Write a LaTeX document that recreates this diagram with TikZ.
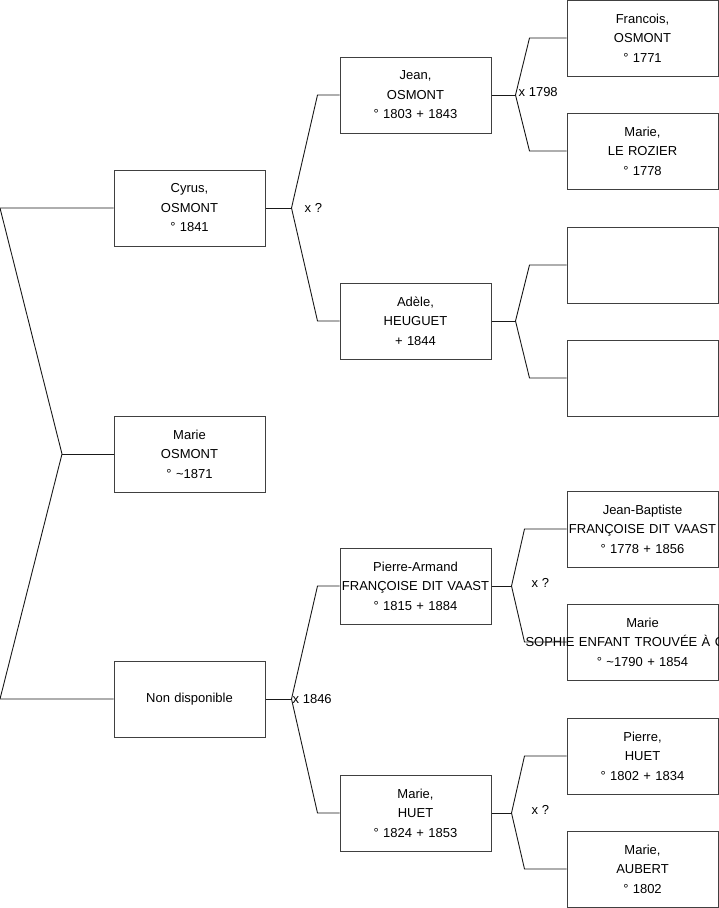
\documentclass[tikz,border=0pt]{standalone}
\usepackage{fontspec}
\setmainfont{Liberation Sans}
\usepackage{tikz}
\usetikzlibrary{positioning}
\tikzset{
  treefont/.style={font=\fontsize{13}{19.5}\selectfont},
  person/.style={rectangle, draw=black!75, line width=1pt, inner sep=0pt, align=center,
    text width=151pt, minimum width=151pt, minimum height=76pt},
  link/.style={draw=black!90, line width=0.9pt},
  mlbl/.style={anchor=west, inner sep=0pt},
}
\newcommand{\wide}[1]{\makebox[0pt]{#1}}

\begin{document}
\begin{tikzpicture}[x=1pt, y=-1pt, treefont]
  \useasboundingbox (0,0) rectangle (719,908);
  % generation 1
  \node[person] (cyrus) at (189.5,208) {Cyrus,\\OSMONT\\° 1841};
  \node[person] (marie) at (189.5,454) {Marie\\OSMONT\\° \textasciitilde1871};
  \node[person] (nondispo) at (189.5,699) {Non disponible};
  % generation 2
  \node[person] (jean) at (415.5,95) {Jean,\\OSMONT\\° 1803 + 1843};
  \node[person] (adele) at (415.5,321) {Adèle,\\HEUGUET\\+ 1844};
  \node[person] (pierrearmand) at (415.5,586) {Pierre-Armand\\\wide{FRANÇOISE DIT VAAST}\\° 1815 + 1884};
  \node[person] (mariehuet) at (415.5,813) {Marie,\\HUET\\° 1824 + 1853};
  % generation 3
  \node[person] (francois) at (642.5,38) {Francois,\\OSMONT\\° 1771};
  \node[person] (marierozier) at (642.5,151) {Marie,\\LE ROZIER\\° 1778};
  \node[person] (empty1) at (642.5,265) {};
  \node[person] (empty2) at (642.5,378) {};
  \node[person] (jeanbaptiste) at (642.5,529) {Jean-Baptiste\\\wide{FRANÇOISE DIT VAAST}\\° 1778 + 1856};
  \node[person] (mariesophie) at (642.5,642) {Marie\\\makebox[0pt][l]{\hspace*{-117pt}SOPHIE ENFANT TROUVÉE À C}\\° \textasciitilde1790 + 1854};
  \node[person] (pierrehuet) at (642.5,756) {Pierre,\\HUET\\° 1802 + 1834};
  \node[person] (marieaubert) at (642.5,869) {Marie,\\AUBERT\\° 1802};

  % fork points
  \coordinate (r1) at (0,208);
  \coordinate (r2) at (62,454);
  \coordinate (r3) at (0,699);
  \coordinate (f1) at ([xshift=26pt]cyrus.east);
  \coordinate (f2) at ([xshift=26pt]nondispo.east);
  \coordinate (f3) at ([xshift=24pt]jean.east);
  \coordinate (f4) at ([xshift=24pt]adele.east);
  \coordinate (f5) at ([xshift=20pt]pierrearmand.east);
  \coordinate (f6) at ([xshift=20pt]mariehuet.east);

  % connectors
  \draw[link] (cyrus.west) -- (r1) -- (r2) -- (r3) -- (nondispo.west);
  \draw[link] (r2) -- (marie.west);
  \draw[link] (cyrus.east) -- (f1);
  \draw[link] (jean.west) -- ++(-22,0) -- (f1) -- ([xshift=-22pt]adele.west) -- (adele.west);
  \draw[link] (nondispo.east) -- (f2);
  \draw[link] (pierrearmand.west) -- ++(-22,0) -- (f2) -- ([xshift=-22pt]mariehuet.west) -- (mariehuet.west);
  \draw[link] (jean.east) -- (f3);
  \draw[link] (francois.west) -- ++(-37,0) -- (f3) -- ([xshift=-37pt]marierozier.west) -- (marierozier.west);
  \draw[link] (adele.east) -- (f4);
  \draw[link] (empty1.west) -- ++(-37,0) -- (f4) -- ([xshift=-37pt]empty2.west) -- (empty2.west);
  \draw[link] (pierrearmand.east) -- (f5);
  \draw[link] (jeanbaptiste.west) -- ++(-42,0) -- (f5) -- ([xshift=-42pt]mariesophie.west) -- (mariesophie.west);
  \draw[link] (mariehuet.east) -- (f6);
  \draw[link] (pierrehuet.west) -- ++(-42,0) -- (f6) -- ([xshift=-42pt]marieaubert.west) -- (marieaubert.west);

  % marriage labels
  \node[mlbl] (m1) at ([xshift=13pt]f1) {x ?};
  \node[mlbl] (m2) at ([xshift=1pt]f2) {x 1846};
  \node[mlbl] (m3) at ([xshift=3pt,yshift=3pt]f3) {x 1798};
  \node[mlbl] (m5) at ([xshift=20pt,yshift=3pt]f5) {x ?};
  \node[mlbl] (m6) at ([xshift=20pt,yshift=3pt]f6) {x ?};
\end{tikzpicture}
\end{document}
